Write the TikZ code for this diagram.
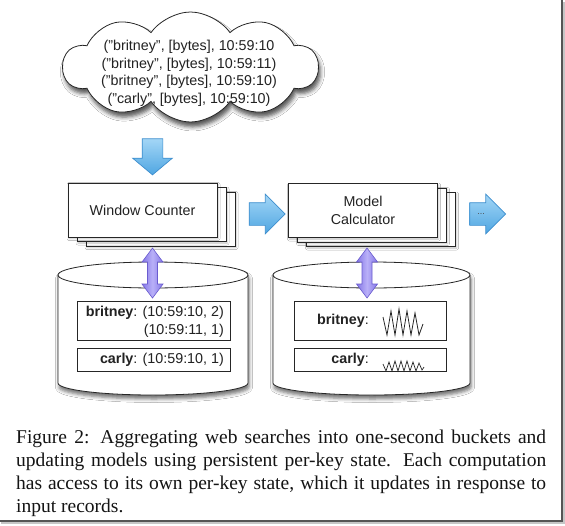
\documentclass[tikz,border=0pt]{standalone}
\usepackage{fontspec}
\setmainfont{Liberation Sans}
\newfontfamily\capfont{Liberation Serif}
\usetikzlibrary{shapes.symbols,shapes.arrows,shadows.blur,calc}

\definecolor{txt}{HTML}{222222}
\definecolor{bluetop}{HTML}{A3D6F6}
\definecolor{bluebot}{HTML}{4FA6E2}
\definecolor{blueline}{HTML}{3D8ECE}
\definecolor{purpfill}{HTML}{8476E6}
\definecolor{purpmid}{HTML}{B9B0F8}
\definecolor{purpline}{HTML}{6A5CCF}
\definecolor{frameline}{HTML}{555555}

\begin{document}
\begin{tikzpicture}[x=1pt,y=-1pt,
  every node/.style={text=txt, font=\fontsize{14.3}{17.5}\selectfont},
  outline/.style={draw=black!85, line width=0.8pt},
  procbox/.style={outline, fill=white, minimum width=149pt, minimum height=54pt,
    inner sep=0pt, align=center,
    blur shadow={shadow xshift=1pt, shadow yshift=-1.5pt, shadow blur radius=2pt, shadow opacity=25}},
  keybox/.style={outline, fill=white, minimum width=153pt, inner sep=0pt},
  bluearrow/.style={single arrow, draw=blueline, line width=0.7pt,
    top color=bluetop, bottom color=bluebot, minimum width=38pt, minimum height=36pt,
    inner xsep=0pt},
  purparrow/.style={draw=purpline, line width=0.6pt, left color=purpfill,
    right color=purpfill, middle color=purpmid},
  zig/.style={draw=black!85, line width=0.8pt, line join=miter},
  cylshadow/.style={blur shadow={shadow xshift=1pt, shadow yshift=-4pt, shadow blur radius=3.5pt, shadow opacity=55}}
]
\useasboundingbox (0,0) rectangle (565,525);
\fill[white] (0,0) rectangle (565,525);

% frame shadow
\draw[line width=1.2pt, gray!45] (564,2) -- (564,523) -- (1,523);
\draw[line width=1.6pt, frameline] (562,0) -- (562,521) -- (0,521);

% cloud
\node[cloud, cloud puffs=10, cloud puff arc=110, aspect=2.3, outline, fill=white,
  minimum width=255pt, minimum height=110pt, inner sep=0pt,
  blur shadow={shadow xshift=2pt, shadow yshift=-5pt, shadow blur radius=4pt, shadow opacity=65}]
  (cloud) at (190.5,67) {};
\node[align=center, inner sep=0pt] (recs) at (189,73.5)
  {("britney", [bytes], 10:59:10\\("britney", [bytes], 10:59:11)\\("britney", [bytes], 10:59:10)\\("carly", [bytes], 10:59:10)};

% down arrow
\node[bluearrow, rotate=-90, inner ysep=10pt, single arrow head extend=9.5pt, single arrow tip angle=100] (down) at (152.5,152.5) {};

% Window Counter stack
\node[procbox] (wc3) at (160.5,219) {};
\node[procbox] (wc2) at (151.5,214.5) {};
\node[procbox] (wc) at (142.5,210) {Window Counter};

% right arrow 1
\node[bluearrow, inner ysep=11pt, single arrow head extend=8.5pt] (right1) at (261.5,214) {};

% Model Calculator stack
\node[procbox] (mc3) at (381,219.5) {};
\node[procbox] (mc2) at (372,215) {};
\node[procbox] (mc) at (363,210.5) {Model\\Calculator};

% right arrow 2
\node[bluearrow, inner ysep=11pt, single arrow head extend=8.5pt] (right2) at (482,214) {};
\node[font=\fontsize{9}{10}\selectfont, text=black!70, inner sep=0pt] (dots) at (481,214) {...};

% cylinders
\foreach \cx/\rx in {153/95, 371.5/98.5} {
  \path[outline, fill=white, cylshadow]
    ({\cx-\rx},275) -- ({\cx-\rx},383)
    arc[start angle=180, end angle=360, x radius={\rx*1pt}, y radius=12pt]
    -- ({\cx+\rx},275)
    arc[start angle=0, end angle=180, x radius={\rx*1pt}, y radius=13pt] -- cycle;
  \draw[outline] ({\cx-\rx},275)
    arc[start angle=180, end angle=360, x radius={\rx*1pt}, y radius=13pt];
}

% left store boxes
\node[keybox, minimum height=39pt] (kA1) at (153.5,320.5) {};
\node[keybox, minimum height=23pt] (kA2) at (153.5,359.5) {};
\node[anchor=east, inner sep=0pt, align=right, font=\fontsize{14.3}{18}\selectfont] (kA1t) at (224,322)
  {\textbf{britney}: (10:59:10, 2)\\(10:59:11, 1)};
\node[anchor=east, inner sep=0pt] (kA2t) at (224,360) {\textbf{carly}: (10:59:10, 1)};

% right store boxes
\node[keybox, minimum width=152pt, minimum height=39pt] (kB1) at (370,320.5) {};
\node[keybox, minimum width=152pt, minimum height=23pt] (kB2) at (370,359.5) {};
\node[anchor=east, inner sep=0pt] (bt) at (369,321) {\textbf{britney}:};
\node[anchor=east, inner sep=0pt] (ct) at (369,360) {\textbf{carly}:};
\draw[zig] (383,317) -- (387,335) -- (391,311) -- (395,335) -- (399,309) -- (403,335)
  -- (407,311) -- (411,335) -- (415,313) -- (419,335) -- (423,324);
\draw[zig, line width=0.7pt] (383,364) -- (386,371) -- (389,362) -- (392,371) -- (395,361) -- (398,371)
  -- (401,361) -- (404,371) -- (407,361) -- (410,371) -- (413,362) -- (416,371) -- (419,363) -- (422,370) -- (424,367);

% purple double arrows (state access)
\foreach \c/\nm in {152.5/pa, 367/pb} {
  \coordinate (\nm) at (\c,248);
  \path[purparrow] (\nm) -- ++(10.5,14) -- ++(-5.5,0) -- ++(0,22) -- ++(5.5,0)
    -- ++(-10.5,14) -- ++(-10.5,-14) -- ++(5.5,0) -- ++(0,-22) -- ++(-5.5,0) -- cycle;
}

% caption
\node[anchor=north west, inner sep=0pt, text width=530pt, align=justify,
  font=\capfont\fontsize{19.5}{23}\selectfont, text=black!92] (cap) at (16,430)
  {Figure 2: Aggregating web searches into one-second buckets and\linebreak
   updating models using persistent per-key state. Each computation\linebreak
   has access to its own per-key state, which it updates in response to\linebreak
   input records.};
\end{tikzpicture}
\end{document}
